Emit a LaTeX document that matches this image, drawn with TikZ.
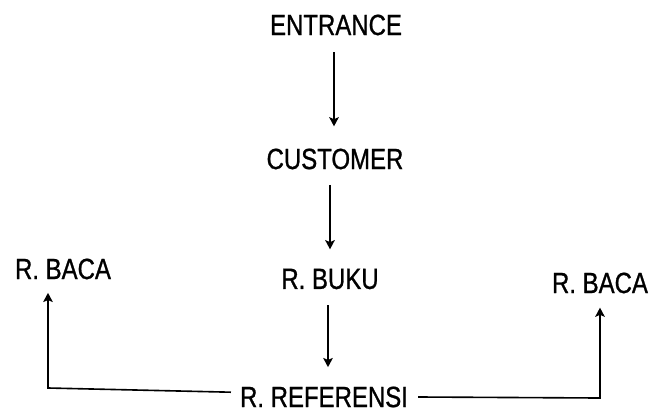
\documentclass[tikz,border=0pt]{standalone}
\usepackage{fontspec}
\setmainfont{Liberation Sans}[FakeStretch=0.82,FakeBold=0.9]
\usetikzlibrary{arrows.meta}

\tikzset{
  room/.style={inner sep=0pt, font=\fontsize{20.8}{24}\selectfont},
  flow/.style={->, >={Stealth[length=0.23cm,width=0.24cm,inset=0.05cm]}, line width=1.15pt},
}

\begin{document}
\begin{tikzpicture}
      \useasboundingbox (0,0) rectangle (16.275,-10.3);

      \node[room] (entrance) at (8.40,-0.625) {ENTRANCE};
      \node[room] (customer) at (8.375,-3.975) {CUSTOMER};
      \node[room] (buku) at (8.25,-6.975) {R. BUKU};
      \node[room] (bacaL) at (1.575,-6.725) {R. BACA};
      \node[room] (bacaR) at (15.0,-7.075) {R. BACA};
      \node[room] (referensi) at (8.1,-9.925) {R. REFERENSI};

      \coordinate (cornerL) at (1.2,-9.7);
      \coordinate (cornerR) at (15.0,-9.95);

      \draw[flow, shorten <=0.42cm, shorten >=0.55cm] ([xshift=-0.05cm]entrance.south) -- ([xshift=-0.05cm]entrance.south |- customer.north);
      \draw[flow, shorten <=0.38cm, shorten >=0.48cm] ([xshift=-0.125cm]customer.south) -- ([xshift=-0.125cm]customer.south |- buku.north);
      \draw[flow, shorten <=0.4cm, shorten >=0.48cm] ([xshift=-0.05cm]buku.south) -- ([xshift=-0.05cm]buku.south |- referensi.north);

      \draw[flow] ([xshift=-0.22cm,yshift=0.12cm]referensi.west) -- (cornerL) -- ([yshift=-0.33cm]cornerL |- bacaL.south);
      \draw[flow] ([xshift=0.25cm]referensi.east) -- (cornerR) -- ([yshift=-0.35cm]bacaR.south);
\end{tikzpicture}
\end{document}
